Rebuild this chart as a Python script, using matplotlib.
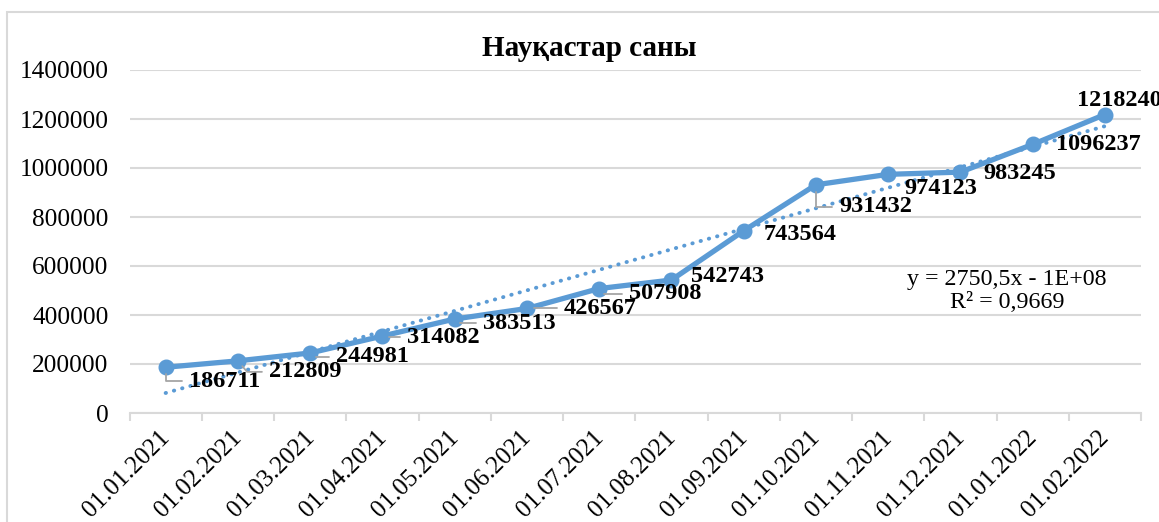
import numpy as np
import matplotlib.pyplot as plt
from matplotlib.patches import Rectangle
from matplotlib.transforms import ScaledTranslation

dates = ["01.01.2021", "01.02.2021", "01.03.2021", "01.04.2021", "01.05.2021",
         "01.06.2021", "01.07.2021", "01.08.2021", "01.09.2021", "01.10.2021",
         "01.11.2021", "01.12.2021", "01.01.2022", "01.02.2022"]
patients = [186711, 212809, 244981, 314082, 383513, 426567, 507908, 542743,
            743564, 931432, 974123, 983245, 1096237, 1218240]
title = "Науқастар саны"
equation = "y = 2750,5x - 1E+08\nR² = 0,9669"

# label offsets in pixels (right, down) and leader style per label
label_offsets = [(23, 14), (31, 11), (26, 4), (25, 1), (28, 4), (37, 0), (30, 5),
                 (20, -4), (20, 4), (23, 22), (16, 14), (23, 1), (23, 0), (-28, -14)]
leaders = ["angle,angleA=0,angleB=90", "angle,angleA=0,angleB=-50",
           "angle,angleA=0,angleB=90", "angle,angleA=0,angleB=90",
           "angle,angleA=0,angleB=90", "angle,angleA=0,angleB=90",
           "angle,angleA=0,angleB=90", None, None, "angle,angleA=0,angleB=90",
           None, None, None, None]

plt.rcParams['font.family'] = ['Liberation Serif', 'DejaVu Serif']
blue = '#5B9BD5'
grid = '#D9D9D9'

fig = plt.figure(figsize=(11.59, 5.22), dpi=100)
ax = fig.add_axes([129.5 / 1159, 1 - 413 / 522, 1011.5 / 1159, 343 / 522])

x = np.arange(len(dates))
coef = np.polyfit(x, patients, 1)
trend = np.polyval(coef, x)

ax.plot(x, patients, color=blue, linewidth=3.8, marker='o', markersize=10.5,
        zorder=3, solid_joinstyle='round')
ax.plot(x, trend, color=blue, linewidth=2.8, linestyle=(0, (0.1, 2.1)),
        dash_capstyle='round', zorder=2)

for i, v in enumerate(patients):
    dx, dy = label_offsets[i]
    props = None
    if leaders[i] is not None:
        props = dict(arrowstyle='-', color='#A5A5A5', lw=1.3, shrinkA=3, shrinkB=5,
                     relpos=(0, 0.5), connectionstyle=leaders[i])
    ax.annotate(str(v), xy=(i, v), xytext=(dx, -dy), textcoords='offset pixels',
                ha='left', va='center', fontsize=17.5, fontweight='bold',
                arrowprops=props, zorder=5, annotation_clip=False)

ax.text(0.8675, 0.356, equation, transform=ax.transAxes, ha='center', va='center',
        multialignment='center', fontsize=17.3, linespacing=1.15)

ax.set_xlim(-0.5, len(dates) - 0.5)
ax.set_ylim(0, 1400000)
ax.set_yticks(np.arange(0, 1400001, 200000))
ax.set_yticklabels([str(t) for t in range(0, 1400001, 200000)])
ax.yaxis.grid(True, color=grid, linewidth=1.5)
ax.set_axisbelow(True)

ax.set_xticks(x)
ax.set_xticklabels(dates, rotation=45, ha='right', rotation_mode='anchor')
ax.set_xticks(np.arange(-0.5, len(dates)), minor=True)
ax.tick_params(axis='x', which='major', length=0, pad=12, labelsize=18)
ax.tick_params(axis='x', which='minor', length=6, color=grid, width=1.5)
ax.tick_params(axis='y', length=0, pad=15, labelsize=18.2)
shift = ScaledTranslation(-7 / 100, 3 / 100, fig.dpi_scale_trans)
for lbl in ax.get_xticklabels():
    lbl.set_transform(lbl.get_transform() + shift)

for s in ['top', 'right', 'left']:
    ax.spines[s].set_visible(False)
ax.spines['bottom'].set_color(grid)
ax.spines['bottom'].set_linewidth(1.5)

fig.text(589 / 1159, 1 - 48 / 522, title, ha='center', va='center',
         fontsize=21, fontweight='bold')

fig.add_artist(Rectangle((7 / 1159, -0.2), 1.2, 1.2 - 12 / 522,
                         transform=fig.transFigure, fill=False,
                         edgecolor=grid, linewidth=1.5))

plt.savefig("out.png", dpi=100)
